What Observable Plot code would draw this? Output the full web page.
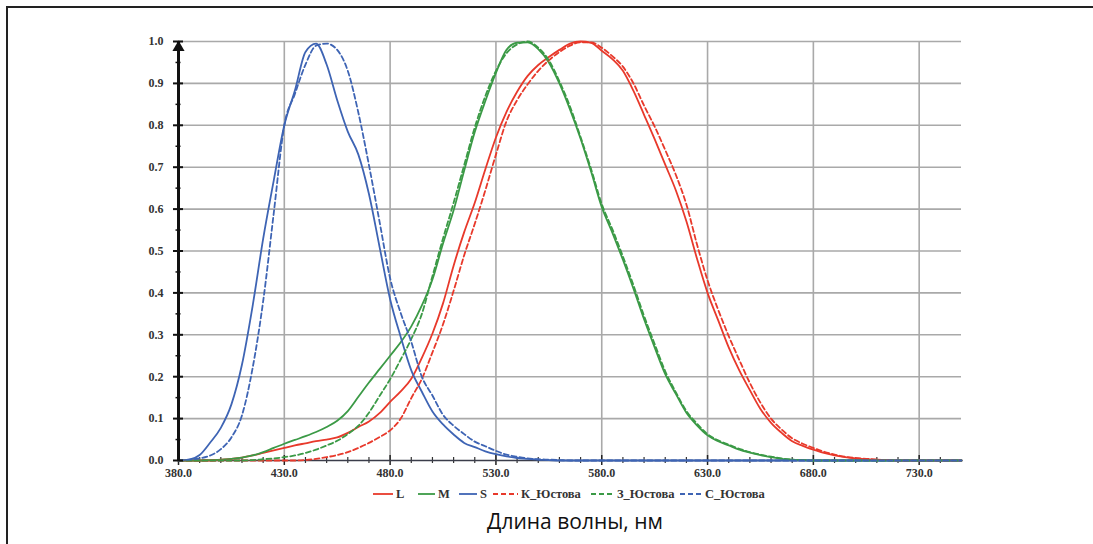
<!DOCTYPE html>
<html>
<head>
<meta charset="utf-8">
<script src="https://cdn.jsdelivr.net/npm/d3@7"></script>
<script src="https://cdn.jsdelivr.net/npm/@observablehq/plot@0.6"></script>
<style>
  html, body { margin: 0; padding: 0; background: #fff; overflow: hidden; }
  #wrap { position: relative; width: 1093px; height: 544px; overflow: hidden; background: #fff; }
  #frame { position: absolute; left: 6px; top: 6px; width: 1085px; height: 536px; border-top: 2px solid #222; border-left: 2px solid #222; }
  #chart { position: absolute; left: 0; top: 0; }
  #legend { position: absolute; left: 0; top: 485px; width: 1093px; height: 18px; font: bold 12.5px "Liberation Serif", serif; color: #333; }
  .item { position: absolute; top: 0; height: 18px; display: flex; align-items: center; white-space: nowrap; }
  .item svg { display: block; margin-right: 3px; }
  #title { position: absolute; left: 0; top: 507px; width: 1150px; text-align: center; font: 21px "Open Sans", sans-serif; color: #111; }
</style>
</head>
<body>
<div id="wrap">
  <div id="frame"></div>
  <div id="chart"></div>
  <div id="legend"></div>
  <div id="title">Длина волны, нм</div>
</div>
<script>
// Wavelengths, nm
const wavelengths = [380,385,390,395,400,405,410,415,420,425,430,435,440,445,450,455,460,465,470,475,480,485,490,495,500,505,510,515,520,525,530,535,540,545,550,555,560,565,570,575,580,585,590,595,600,605,610,615,620,625,630,635,640,645,650,655,660,665,670,675,680,685,690,695,700,705,710,715,720,725,730,735,740,745,750];

// L (solid red)
const L = [0,0,0,0,0.002,0.004,0.007,0.012,0.018,0.024,0.03,0.036,0.041,0.046,0.05,0.055,0.066,0.08,0.093,0.113,0.14,0.165,0.195,0.245,0.303,0.375,0.465,0.545,0.615,0.695,0.771,0.832,0.88,0.918,0.944,0.963,0.98,0.995,1.0,0.997,0.978,0.958,0.93,0.882,0.825,0.767,0.706,0.645,0.571,0.482,0.4,0.335,0.27,0.215,0.168,0.123,0.09,0.066,0.046,0.035,0.026,0.018,0.012,0.008,0.005,0.003,0.002,0.001,0,0,0,0,0,0,0];
// M (solid green)
const M = [0,0,0,0.001,0.002,0.004,0.007,0.012,0.02,0.03,0.04,0.049,0.058,0.068,0.08,0.095,0.118,0.152,0.186,0.218,0.25,0.282,0.32,0.37,0.432,0.518,0.597,0.692,0.784,0.858,0.925,0.98,0.997,0.998,0.982,0.95,0.9,0.838,0.768,0.689,0.605,0.544,0.479,0.41,0.337,0.27,0.206,0.159,0.114,0.084,0.06,0.046,0.036,0.026,0.019,0.013,0.008,0.004,0.002,0.001,0,0,0,0,0,0,0,0,0,0,0,0,0,0,0];
// S (solid blue)
const S = [0,0.002,0.013,0.043,0.078,0.134,0.229,0.368,0.529,0.668,0.80,0.883,0.975,0.995,0.945,0.86,0.785,0.73,0.636,0.51,0.385,0.295,0.215,0.164,0.117,0.086,0.062,0.042,0.032,0.022,0.015,0.010,0.006,0.004,0.002,0.001,0,0,0,0,0,0,0,0,0,0,0,0,0,0,0,0,0,0,0,0,0,0,0,0,0,0,0,0,0,0,0,0,0,0,0,0,0,0,0];
// К_Юстова (dashed red)
const K_Yustova = [0,0,0,0,0,0,0,0,0,0,0,0,0.001,0.004,0.008,0.013,0.02,0.03,0.042,0.056,0.072,0.1,0.149,0.195,0.258,0.325,0.405,0.49,0.565,0.645,0.73,0.81,0.86,0.898,0.93,0.955,0.975,0.99,0.998,0.998,0.985,0.965,0.94,0.9,0.847,0.797,0.741,0.682,0.611,0.516,0.43,0.36,0.297,0.24,0.185,0.138,0.1,0.074,0.053,0.04,0.03,0.021,0.014,0.009,0.006,0.004,0.002,0.001,0,0,0,0,0,0,0];
// З_Юстова (dashed green)
const Z_Yustova = [0,0,0,0,0,0,0,0.001,0.003,0.005,0.008,0.012,0.018,0.026,0.036,0.047,0.063,0.083,0.114,0.154,0.194,0.241,0.29,0.35,0.44,0.53,0.615,0.705,0.795,0.87,0.93,0.972,0.993,1.0,0.985,0.955,0.905,0.845,0.772,0.695,0.612,0.552,0.487,0.418,0.345,0.278,0.213,0.163,0.118,0.088,0.063,0.048,0.038,0.028,0.02,0.014,0.009,0.005,0.002,0.001,0,0,0,0,0,0,0,0,0,0,0,0,0,0,0];
// С_Юстова (dashed blue)
const S_Yustova = [0,0.002,0.005,0.012,0.027,0.055,0.108,0.22,0.38,0.59,0.80,0.875,0.945,0.99,0.995,0.98,0.93,0.83,0.705,0.57,0.435,0.352,0.283,0.2,0.155,0.109,0.083,0.063,0.045,0.034,0.023,0.014,0.009,0.005,0.003,0.002,0.001,0,0,0,0,0,0,0,0,0,0,0,0,0,0,0,0,0,0,0,0,0,0,0,0,0,0,0,0,0,0,0,0,0,0,0,0,0,0];

const seriesNames = ["L", "M", "S", "К_Юстова", "З_Юстова", "С_Юстова"];
const seriesValues = [L, M, S, K_Yustova, Z_Yustova, S_Yustova];
const seriesColors = ["#e8392b", "#3b9a46", "#3e64b4", "#e8392b", "#3b9a46", "#3e64b4"];
const seriesDashed = [false, false, false, true, true, true];

// Axis ticks
const xMajorTicks = [380, 430, 480, 530, 580, 630, 680, 730];
const xGridTicks = [430, 480, 530, 580, 630, 680, 730];
const xMinorTicks = [390,400,410,420,440,450,460,470,490,500,510,520,540,550,560,570,590,600,610,620,640,650,660,670,690,700,710,720,740];
const yMajorTicks = [0, 0.1, 0.2, 0.3, 0.4, 0.5, 0.6, 0.7, 0.8, 0.9, 1.0];
const yGridTicks = [0.1, 0.2, 0.3, 0.4, 0.5, 0.6, 0.7, 0.8, 0.9, 1.0];
const yMinorTicks = [0.05, 0.15, 0.25, 0.35, 0.45, 0.55, 0.65, 0.75, 0.85, 0.95];

const rows = [];
seriesNames.forEach((name, si) => {
  wavelengths.forEach((w, i) => rows.push({series: name, wl: w, v: seriesValues[si][i]}));
});

const fmt = d3.format(".1f");
const labelFont = {fontFamily: "Liberation Serif", fontWeight: "bold", fontSize: 12};

const lineMarks = seriesNames.map((name, si) =>
  Plot.line(rows.filter(d => d.series === name), {
    x: "wl", y: "v", curve: "monotone-x",
    stroke: seriesColors[si], strokeWidth: 1.8,
    strokeDasharray: seriesDashed[si] ? "5,3" : null
  })
);

const plot = Plot.plot({
  width: 1093,
  height: 482,
  marginLeft: 178,
  marginRight: 132,
  marginTop: 41,
  marginBottom: 22,
  x: {domain: [380, 750], axis: null, label: null},
  y: {domain: [0, 1], axis: null, label: null},
  style: {background: "transparent"},
  marks: [
    Plot.gridY(yGridTicks, {stroke: "#a9a9a9", strokeOpacity: 1, strokeWidth: 1.6}),
    Plot.gridX(xGridTicks, {stroke: "#a9a9a9", strokeOpacity: 1, strokeWidth: 1.6}),
    Plot.axisX(xMinorTicks, {tickSize: 6, dy: -3, text: null, label: null, stroke: "#333", strokeWidth: 1.2}),
    Plot.axisX(xMajorTicks, {tickSize: 10, dy: -5, text: null, label: null, stroke: "#222", strokeWidth: 1.5}),
    Plot.axisX(xMajorTicks, {tickSize: 0, tickPadding: 8, tickFormat: fmt, label: null, fill: "#333", ...labelFont}),
    Plot.ruleY([0], {stroke: "#3b3d4a", strokeWidth: 1.6}),
    ...lineMarks,
    Plot.axisY(yMinorTicks, {tickSize: 5, dx: 2.5, text: null, label: null, stroke: "#111", strokeWidth: 1.5}),
    Plot.axisY(yMajorTicks, {tickSize: 10, dx: 5, text: null, label: null, stroke: "#111", strokeWidth: 2}),
    Plot.axisY(yMajorTicks, {tickSize: 0, tickPadding: 15, tickFormat: fmt, label: null, fill: "#333", ...labelFont}),
    Plot.ruleX([380], {stroke: "#111", strokeWidth: 3}),
    Plot.dot([1.0], {x: () => 380, y: d => d, symbol: "triangle", r: 4.5, dy: 6, fill: "#111", stroke: "none"})
  ]
});
document.getElementById("chart").appendChild(plot);

// Legend (below the plot)
const legendLeft = [373, 418, 459, 493, 591, 680];
const legendLineW = [20, 17, 18, 25, 23, 22];
const legend = document.getElementById("legend");
seriesNames.forEach((name, si) => {
  const item = document.createElement("div");
  item.className = "item";
  item.style.left = legendLeft[si] + "px";
  const w = legendLineW[si];
  item.innerHTML = `<svg width="${w}" height="10"><line x1="0" y1="5" x2="${w}" y2="5" stroke="${seriesColors[si]}" stroke-width="1.8" ${seriesDashed[si] ? 'stroke-dasharray="5,3"' : ''}/></svg><span>${name}</span>`;
  legend.appendChild(item);
});
</script>
</body>
</html>
